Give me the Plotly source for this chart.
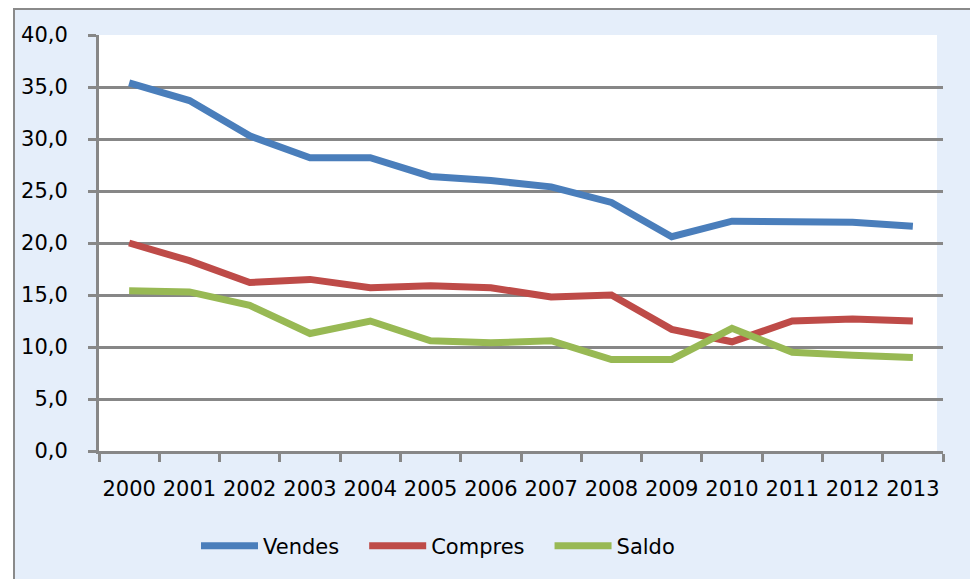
import plotly.graph_objects as go

years = ["2000", "2001", "2002", "2003", "2004", "2005", "2006",
         "2007", "2008", "2009", "2010", "2011", "2012", "2013"]
vendes = [35.4, 33.7, 30.3, 28.2, 28.2, 26.4, 26.0, 25.4, 23.9, 20.6, 22.1, 22.0, 22.0, 21.6]
compres = [20.0, 18.3, 16.2, 16.5, 15.7, 15.9, 15.7, 14.8, 15.0, 11.7, 10.5, 12.5, 12.7, 12.5]
saldo = [15.4, 15.3, 14.0, 11.3, 12.5, 10.6, 10.4, 10.6, 8.8, 8.8, 11.8, 9.5, 9.2, 9.0]

series_names = ["Vendes", "Compres", "Saldo"]
series_values = [vendes, compres, saldo]
series_colors = ["#4A7EBB", "#BE4B48", "#98B954"]
legend_pad = [3, 3, 0]  # trailing non-breaking spaces for legend spacing

# the page body adds an 8px offset; figure coords = page coords - 8
OFF = 8
W, H = 978 - OFF, 579 - OFF
L, R, T, B = 99 - OFF, 943 - OFF, 35 - OFF, 451 - OFF

def px_x(p):
    return (p - OFF - L) / (R - L)

def px_y(p):
    return (B - (p - OFF)) / (B - T)

fig = go.Figure()
for name, vals, col, pad in zip(series_names, series_values, series_colors, legend_pad):
    fig.add_trace(go.Scatter(x=years, y=vals, name=name + "\u00a0" * pad, mode="lines",
                             line=dict(color=col, width=7)))

grid = "#878787"
font = "DejaVu Sans"
fs = 21
fig.update_layout(
    width=W, height=H,
    margin=dict(l=L, r=W - R, t=T, b=H - B, pad=0),
    paper_bgcolor="white",
    plot_bgcolor="rgba(0,0,0,0)",
    separators=", ",
    font=dict(family=font, size=fs, color="#000000"),
    showlegend=True,
    legend=dict(orientation="h", x=px_x(438), xanchor="center",
                y=px_y(546), yanchor="middle",
                bgcolor="rgba(0,0,0,0)", itemwidth=57,
                font=dict(family=font, size=fs, color="#000000"),
                tracegroupgap=0),
    xaxis=dict(type="category", range=[-0.5, 13.5], tickson="boundaries",
               ticks="outside", ticklen=8, tickwidth=3, tickcolor=grid,
               showline=True, linecolor=grid, linewidth=3, showgrid=False,
               tickangle=0, ticklabelstandoff=17,
               tickfont=dict(family=font, size=fs, color="#000000")),
    yaxis=dict(range=[0, 40], dtick=5, tick0=0, tickformat=".1f",
               ticks="outside", ticklen=8, tickwidth=3, tickcolor=grid,
               showline=True, linecolor=grid, linewidth=3,
               showgrid=True, gridcolor=grid, gridwidth=3, zeroline=False,
               ticklabelstandoff=16,
               tickfont=dict(family=font, size=fs, color="#000000")),
    shapes=[
        dict(type="rect", xref="paper", yref="paper", layer="below",
             x0=px_x(14), x1=px_x(973), y0=px_y(9), y1=px_y(600),
             fillcolor="#E5EEFA", line=dict(color="#8A8A8A", width=2)),
        dict(type="rect", xref="paper", yref="paper", layer="below",
             x0=0, x1=px_x(937), y0=0, y1=1,
             fillcolor="white", line=dict(width=0)),
    ],
)

fig.write_html("out.html")
